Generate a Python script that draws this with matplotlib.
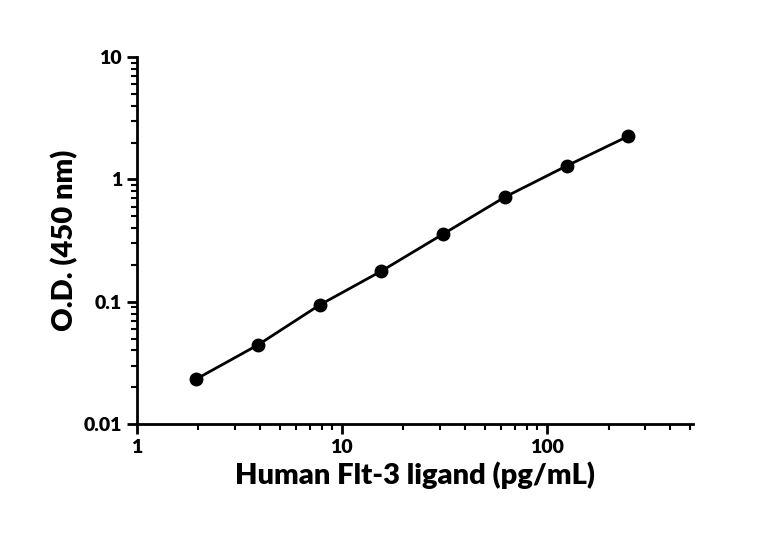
import matplotlib
matplotlib.use("Agg")
import matplotlib.pyplot as plt
from matplotlib.ticker import FixedLocator, FixedFormatter, LogLocator, NullFormatter

conc = [1.95, 3.9, 7.8, 15.6, 31.25, 62.5, 125, 250]
od = [0.0233, 0.0443, 0.094, 0.178, 0.358, 0.718, 1.29, 2.26]
xticks = [1, 10, 100]
xlabels = ["1", "10", "100"]
yticks = [0.01, 0.1, 1, 10]
ylabels = ["0.01", "0.1", "1", "10"]

plt.rcParams['font.family'] = ['Lato', 'DejaVu Sans']
plt.rcParams['font.weight'] = 'heavy'
fig = plt.figure(figsize=(7.68, 5.34), dpi=100)
ax = fig.add_axes([0.178, 0.206, 0.724, 0.687])
ax.plot(conc, od, color='black', lw=2, marker='o', ms=9)
ax.set_xscale('log'); ax.set_yscale('log')
ax.set_xlim(1, 515); ax.set_ylim(0.01, 10)
ax.xaxis.set_major_locator(FixedLocator(xticks))
ax.xaxis.set_major_formatter(FixedFormatter(xlabels))
ax.yaxis.set_major_locator(FixedLocator(yticks))
ax.yaxis.set_major_formatter(FixedFormatter(ylabels))
for a in (ax.xaxis, ax.yaxis):
    a.set_minor_locator(LogLocator(base=10, subs=range(2, 10)))
    a.set_minor_formatter(NullFormatter())
for s in ['top', 'right']:
    ax.spines[s].set_visible(False)
for s in ['left', 'bottom']:
    ax.spines[s].set_linewidth(2)
ax.tick_params(which='major', direction='out', length=7, width=2, labelsize=14)
ax.tick_params(which='minor', direction='out', length=4, width=1.5)
ax.set_xlabel('Human Flt-3 ligand (pg/mL)', fontsize=21, fontweight='heavy')
ax.set_ylabel('O.D. (450 nm)', fontsize=21, fontweight='heavy')
fig.savefig('out.png', dpi=100)
